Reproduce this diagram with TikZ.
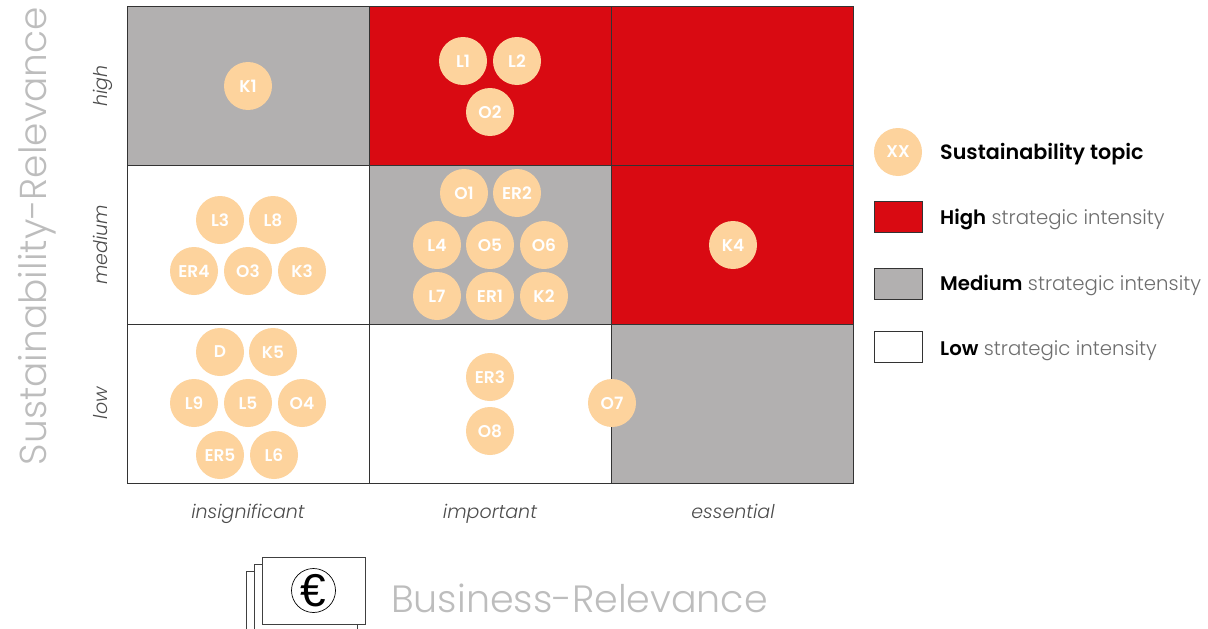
\documentclass[tikz,border=0pt]{standalone}
\usepackage{fontspec}
\setmainfont{Poppins}[UprightFont=* Light,BoldFont=* SemiBold,ItalicFont=* Light Italic]
\newfontfamily\eurofont{Liberation Sans}
\usepackage{xcolor}
\usetikzlibrary{positioning}
\definecolor{highred}{HTML}{D90A12}
\definecolor{midgrey}{HTML}{B2B0B0}
\definecolor{topicpeach}{HTML}{FDD39D}
\definecolor{titlegrey}{HTML}{BDBDBD}
\definecolor{legendgrey}{HTML}{6E6E6E}

\begin{document}
\begin{tikzpicture}[x=1pt,y=-1pt,node distance=158.67pt and 242pt,on grid,
        cell/.style={draw=black!80,line width=1pt,minimum width=242pt,minimum height=158.67pt,outer sep=0pt},
        topic/.style={circle,fill=topicpeach,text=white,minimum size=48pt,inner sep=0pt,font=\fontsize{17}{20}\selectfont\bfseries},
        swatch/.style={draw=black!80,line width=1pt,minimum width=48pt,minimum height=31pt,outer sep=0pt},
        legendtext/.style={anchor=base west,inner sep=0pt,text=legendgrey,font=\fontsize{19.7}{22}\selectfont},
        rowlabel/.style={rotate=90,anchor=base,text=black!70,font=\fontsize{19}{22}\selectfont\itshape},
        collabel/.style={anchor=base,text=black!70,font=\fontsize{19}{22}\selectfont\itshape},
        bill/.style={draw=black!75,fill=white,line width=0.9pt,minimum width=103pt,minimum height=67pt,outer sep=0pt}]

      \clip (0,0) rectangle (1208,629);

      % matrix
      \node[cell,fill=midgrey]  (c_hi_1) at (248,86.33) {};
      \node[cell,fill=highred]  (c_hi_2) [right=of c_hi_1] {};
      \node[cell,fill=highred]  (c_hi_3) [right=of c_hi_2] {};
      \node[cell,fill=white]    (c_me_1) [below=of c_hi_1] {};
      \node[cell,fill=midgrey]  (c_me_2) [right=of c_me_1] {};
      \node[cell,fill=highred]  (c_me_3) [right=of c_me_2] {};
      \node[cell,fill=white]    (c_lo_1) [below=of c_me_1] {};
      \node[cell,fill=white]    (c_lo_2) [right=of c_lo_1] {};
      \node[cell,fill=midgrey]  (c_lo_3) [right=of c_lo_2] {};

      % topics
      \node[topic] (K1) at (248,86) {K1};
      \node[topic] (L1) at (463,61) {L1};
      \node[topic] (L2) at (517,61) {L2};
      \node[topic] (O2) at (490,112) {O2};
      \node[topic] (L3) at (220,220) {L3};
      \node[topic] (L8) at (273,220) {L8};
      \node[topic] (ER4) at (194,271) {ER4};
      \node[topic] (O3) at (248,271) {O3};
      \node[topic] (K3) at (302,271) {K3};
      \node[topic] (O1) at (464,193) {O1};
      \node[topic] (ER2) at (517,193) {ER2};
      \node[topic] (L4) at (437,245) {L4};
      \node[topic] (O5) at (490,245) {O5};
      \node[topic] (O6) at (544,245) {O6};
      \node[topic] (L7) at (437,296) {L7};
      \node[topic] (ER1) at (490,296) {ER1};
      \node[topic] (K2) at (544,296) {K2};
      \node[topic] (K4) at (733,245) {K4};
      \node[topic] (D) at (220,352) {D};
      \node[topic] (K5) at (273,352) {K5};
      \node[topic] (L9) at (194,403) {L9};
      \node[topic] (L5) at (248,403) {L5};
      \node[topic] (O4) at (302,403) {O4};
      \node[topic] (ER5) at (220,455) {ER5};
      \node[topic] (L6) at (274,455) {L6};
      \node[topic] (ER3) at (490,377) {ER3};
      \node[topic] (O8) at (490,431) {O8};
      \node[topic] (O7) at (612,403) {O7};

      % axis labels
      \node[rowlabel] (l_high) at (107,86) {high};
      \node[rowlabel] (l_medium) at (107,245) {medium};
      \node[rowlabel] (l_low) at (107,403) {low};
      \node[collabel] (l_insig) at (248,518) {insignificant};
      \node[collabel] (l_impor) at (490,518) {important};
      \node[collabel] (l_essen) at (733,518) {essential};
      \node[rotate=90,text=titlegrey,font=\fontsize{37.5}{44}\selectfont] (t_sust) at (37,236) {Sustainability-Relevance};
      \node[anchor=west,inner sep=0pt,text=titlegrey,font=\fontsize{38}{44}\selectfont] (t_busi) at (391,598) {Business-Relevance};

      % money
      \node[bill] (b_back) at (297.5,605) {};
      \node[bill] (b_mid) at (305.5,598) {};
      \node[bill] (b_front) at (313.5,590.5) {};
      \node[circle,draw=black,line width=0.7pt,minimum size=44pt,inner sep=0pt] (euro) at (b_front) {};
      \node[inner sep=0pt,font=\fontsize{46}{48}\eurofont] (euro_sign) at (euro) {€};

      % legend
      \node[topic] (XX) at (898,152) {XX};
      \node[swatch,fill=highred] (s_high) at (898,216.5) {};
      \node[swatch,fill=midgrey] (s_med) at (898,283.5) {};
      \node[swatch,fill=white] (s_low) at (898,346.5) {};
      \node[legendtext,text=black,font=\fontsize{20.7}{22}\selectfont\bfseries] (n_topic) at (940,159) {Sustainability topic};
      \node[legendtext] (n_high) at (940,224) {\textcolor{black}{\textbf{High}} strategic intensity};
      \node[legendtext] (n_med) at (940,290) {\textcolor{black}{\textbf{Medium}} strategic intensity};
      \node[legendtext] (n_low) at (940,355) {\textcolor{black}{\textbf{Low}} strategic intensity};
\end{tikzpicture}
\end{document}
